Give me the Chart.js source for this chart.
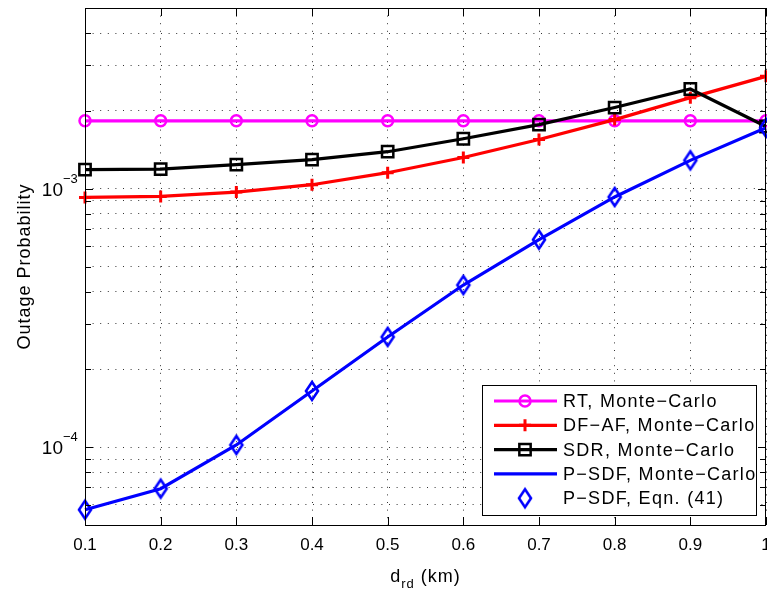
<!DOCTYPE html>
<html>
<head>
<meta charset="utf-8">
<script src="https://cdn.jsdelivr.net/npm/chart.js@4.4.1/dist/chart.umd.min.js"></script>
<style>
  body { margin: 0; background: #fff; }
  canvas { display: block; }
</style>
</head>
<body>
<canvas id="chart" width="767" height="589"></canvas>
<script>
// distance relay-destination (km)
const distances = [0.1, 0.2, 0.3, 0.4, 0.5, 0.6, 0.7, 0.8, 0.9, 1.0]

// outage probability
const rtMonteCarlo   = [1.83e-3, 1.83e-3, 1.83e-3, 1.83e-3, 1.83e-3, 1.83e-3, 1.83e-3, 1.83e-3, 1.83e-3, 1.83e-3]
const dfafMonteCarlo = [9.25e-4, 9.33e-4, 9.7e-4, 1.036e-3, 1.153e-3, 1.32e-3, 1.55e-3, 1.85e-3, 2.25e-3, 2.72e-3]
const sdrMonteCarlo  = [1.185e-3, 1.19e-3, 1.24e-3, 1.295e-3, 1.39e-3, 1.56e-3, 1.77e-3, 2.06e-3, 2.43e-3, 1.74e-3]
const psdfMonteCarlo = [5.73e-5, 6.91e-5, 1.02e-4, 1.65e-4, 2.67e-4, 4.24e-4, 6.35e-4, 9.29e-4, 1.287e-3, 1.72e-3]
const psdfEqn41      = [5.73e-5, 6.91e-5, 1.02e-4, 1.65e-4, 2.67e-4, 4.24e-4, 6.35e-4, 9.29e-4, 1.287e-3, 1.72e-3]

const seriesLabels = ['RT, Monte\u2212Carlo', 'DF\u2212AF, Monte\u2212Carlo', 'SDR, Monte\u2212Carlo', 'P\u2212SDF, Monte\u2212Carlo', 'P\u2212SDF, Eqn. (41)']

const xTickValues = [0.1, 0.2, 0.3, 0.4, 0.5, 0.6, 0.7, 0.8, 0.9, 1.0]
const xTickLabels = ['0.1', '0.2', '0.3', '0.4', '0.5', '0.6', '0.7', '0.8', '0.9', '1']
const yGridValues = [5e-5, 6e-5, 7e-5, 8e-5, 9e-5,
    1e-4, 2e-4, 3e-4, 4e-4, 5e-4, 6e-4, 7e-4, 8e-4, 9e-4,
    1e-3, 2e-3, 3e-3, 4e-3, 5e-3]
const yLabelExponents = [-4, -3]
const yMin = 5e-5
const yMax = 5e-3

const FONT = '"Liberation Sans", Arial, Helvetica, sans-serif'

// matlab style diamond, a bit taller than wide
function diamondMarker(color) {
    const c = document.createElement('canvas')
    c.width = 18
    c.height = 24
    const g = c.getContext('2d')
    g.strokeStyle = color
    g.lineWidth = 2.6
    g.beginPath()
    g.moveTo(9, 3)
    g.lineTo(15, 12)
    g.lineTo(9, 21)
    g.lineTo(3, 12)
    g.closePath()
    g.stroke()
    return c
}
const blueDiamond = diamondMarker('#0000ff')

function drawMarker(ctx, ds, x, y) {
    const style = ds.pointStyle
    const r = ds.pointRadius
    if (!r) return
    ctx.save()
    ctx.strokeStyle = ds.pointBorderColor
    ctx.lineWidth = ds.pointBorderWidth
    ctx.beginPath()
    if (style instanceof HTMLCanvasElement) {
        ctx.drawImage(style, x - style.width / 2, y - style.height / 2)
    } else if (style === 'circle') {
        ctx.arc(x, y, r, 0, Math.PI * 2)
        ctx.stroke()
    } else if (style === 'cross') {
        ctx.moveTo(x - r, y); ctx.lineTo(x + r, y)
        ctx.moveTo(x, y - r); ctx.lineTo(x, y + r)
        ctx.stroke()
    } else if (style === 'rect') {
        const s = r * Math.SQRT1_2
        ctx.rect(x - s, y - s, 2 * s, 2 * s)
        ctx.stroke()
    }
    ctx.restore()
}

const matlabAxes = {
    id: 'matlabAxes',
    afterDatasetsDraw(chart) {
        const ctx = chart.ctx
        const { left, right, top, bottom } = chart.chartArea
        const xs = chart.scales.x
        const ys = chart.scales.y

        ctx.save()
        ctx.strokeStyle = '#000'
        ctx.lineWidth = 1
        // box
        ctx.strokeRect(Math.round(left) + 0.5, Math.round(top) + 0.5, Math.round(right - left) - 1, Math.round(bottom - top))

        // inward ticks
        ctx.beginPath()
        xTickValues.forEach(v => {
            const px = Math.round(xs.getPixelForValue(v)) + 0.5
            ctx.moveTo(px, bottom); ctx.lineTo(px, bottom - 8)
            ctx.moveTo(px, top); ctx.lineTo(px, top + 8)
        })
        yGridValues.forEach(v => {
            const py = Math.round(ys.getPixelForValue(v)) + 0.5
            const major = Math.abs(Math.log10(v) - Math.round(Math.log10(v))) < 1e-9
            const len = major ? 8 : 6
            ctx.moveTo(left, py); ctx.lineTo(left + len, py)
            ctx.moveTo(right, py); ctx.lineTo(right - len, py)
        })
        ctx.stroke()

        // x tick labels
        ctx.fillStyle = '#000'
        ctx.font = '17px ' + FONT
        ctx.textAlign = 'center'
        ctx.textBaseline = 'alphabetic'
        xTickValues.forEach((v, i) => {
            ctx.fillText(xTickLabels[i], xs.getPixelForValue(v), bottom + 25)
        })

        // y tick labels 10^n
        yLabelExponents.forEach(e => {
            const py = ys.getPixelForValue(Math.pow(10, e))
            ctx.textAlign = 'right'
            ctx.font = '19px ' + FONT
            ctx.fillText('10', left - 22, py + 7)
            ctx.textAlign = 'left'
            ctx.font = '13px ' + FONT
            ctx.fillText('\u2212' + Math.abs(e), left - 22, py - 6)
        })

        // axis titles
        ctx.letterSpacing = '1px'
        ctx.font = '18px ' + FONT
        const sub = 'rd'
        const t1 = 'd'
        const t2 = ' (km)'
        const w1 = ctx.measureText(t1).width
        const w3 = ctx.measureText(t2).width
        ctx.font = '13px ' + FONT
        const w2 = ctx.measureText(sub).width
        let tx = (left + right) / 2 - (w1 + w2 + w3) / 2
        ctx.textAlign = 'left'
        ctx.font = '18px ' + FONT
        ctx.fillText(t1, tx, bottom + 57)
        ctx.font = '13px ' + FONT
        ctx.fillText(sub, tx + w1, bottom + 63)
        ctx.font = '18px ' + FONT
        ctx.fillText(t2, tx + w1 + w2, bottom + 57)

        ctx.save()
        ctx.translate(30, (top + bottom) / 2)
        ctx.rotate(-Math.PI / 2)
        ctx.textAlign = 'center'
        ctx.fillText('Outage Probability', 0, 0)
        ctx.restore()

        // legend
        const bx1 = right - 284, bx2 = right - 10, by1 = bottom - 140, by2 = bottom - 10
        ctx.fillStyle = '#fff'
        ctx.fillRect(bx1, by1, bx2 - bx1, by2 - by1)
        ctx.strokeRect(Math.round(bx1) + 0.5, Math.round(by1) + 0.5, bx2 - bx1, by2 - by1)
        ctx.font = '18px ' + FONT
        ctx.letterSpacing = '1.3px'
        ctx.textAlign = 'left'
        ctx.textBaseline = 'middle'
        chart.data.datasets.forEach((ds, i) => {
            const ly = by1 + 16 + i * 24.3
            if (ds.showLine !== false) {
                ctx.strokeStyle = ds.borderColor
                ctx.lineWidth = ds.borderWidth
                ctx.beginPath()
                ctx.moveTo(bx1 + 12, ly)
                ctx.lineTo(bx1 + 75, ly)
                ctx.stroke()
            }
            drawMarker(ctx, ds, bx1 + 43, ly)
            ctx.fillStyle = '#000'
            ctx.fillText(ds.label, bx1 + 81, ly + 1)
        })
        ctx.restore()
    }
}

function series(label, data, color, extra) {
    return Object.assign({
        label: label,
        data: data,
        borderColor: color,
        backgroundColor: color,
        borderWidth: 3.2,
        pointBorderColor: color,
        pointBackgroundColor: 'rgba(0,0,0,0)',
        pointBorderWidth: 2.5,
        pointHoverRadius: 0,
        tension: 0,
        clip: false
    }, extra)
}

const datasets = [
    series(seriesLabels[0], rtMonteCarlo, '#ff00ff', { pointStyle: 'circle', pointRadius: 5.5, order: 5 }),
    series(seriesLabels[1], dfafMonteCarlo, '#ff0000', { pointStyle: 'cross', pointRadius: 6, pointBorderWidth: 3, order: 4 }),
    series(seriesLabels[2], sdrMonteCarlo, '#000000', { pointStyle: 'rect', pointRadius: 8, order: 3 }),
    series(seriesLabels[3], psdfMonteCarlo, '#0000ff', { pointRadius: 0, order: 2 }),
    series(seriesLabels[4], psdfEqn41, '#0000ff', { pointStyle: blueDiamond, pointRadius: 7, showLine: false, order: 1 })
]

new Chart(document.getElementById('chart'), {
    type: 'line',
    data: {
        labels: distances,
        datasets: datasets.map(ds => Object.assign(ds, {
            data: ds.data.map((v, i) => ({ x: distances[i], y: v }))
        }))
    },
    options: {
        responsive: false,
        devicePixelRatio: 1,
        animation: false,
        events: [],
        layout: { autoPadding: false, padding: { left: 85, top: 8, right: 1, bottom: 64 } },
        plugins: { legend: { display: false }, tooltip: { enabled: false } },
        scales: {
            x: {
                type: 'linear',
                min: 0.1,
                max: 1.0,
                afterBuildTicks: s => { s.ticks = xTickValues.map(v => ({ value: v })) },
                ticks: { display: false },
                grid: { color: 'rgba(0,0,0,0.8)', lineWidth: 1, drawTicks: false },
                border: { display: false, dash: [1, 6.6] }
            },
            y: {
                type: 'logarithmic',
                min: yMin,
                max: yMax,
                afterBuildTicks: s => { s.ticks = yGridValues.map(v => ({ value: v })) },
                ticks: { display: false },
                grid: { color: 'rgba(0,0,0,0.8)', lineWidth: 1, drawTicks: false },
                border: { display: false, dash: [1, 6.6] }
            }
        }
    },
    plugins: [matlabAxes]
})
</script>
</body>
</html>
